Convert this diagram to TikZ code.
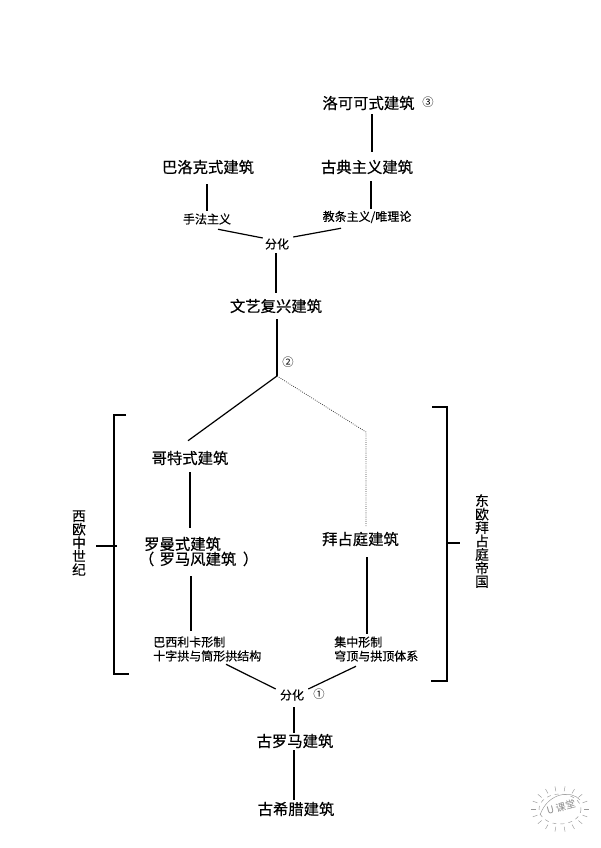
\documentclass[tikz,border=0pt]{standalone}
\usepackage{fontspec}
\setmainfont{Noto Sans CJK SC}
\newfontfamily\cjk{Noto Sans CJK SC}
\newfontfamily\cjkb[FakeBold=0.5]{Noto Sans CJK SC}
\newfontfamily\cjkm[FakeBold=0.25]{Noto Sans CJK SC}
\newfontfamily\cjks[FakeBold=0.35]{Noto Sans CJK SC}
\begin{document}
\begin{tikzpicture}[x=0.75pt,y=-0.75pt,
  big/.style={inner sep=0pt,minimum height=18pt,font=\cjkb\fontsize{11.5}{11.5}\selectfont},
  small/.style={inner sep=0pt,minimum height=12pt,font=\cjkm\fontsize{9}{9}\selectfont},
  twobig/.style={anchor=west,align=left,inner sep=0pt,minimum height=22.5pt,font=\cjkb\fontsize{11.5}{11.25}\selectfont},
  twosmall/.style={anchor=west,align=left,inner sep=0pt,minimum height=22.5pt,font=\cjkm\fontsize{9}{10.5}\selectfont},
  side/.style={align=center,inner sep=0pt,font=\cjks\fontsize{10.3}{10.1}\selectfont},
  num/.style={inner sep=0pt,font=\cjk\fontsize{8.5}{8.5}\selectfont},
  link/.style={draw=black,line width=0.9pt},
  faint/.style={draw=black!75,line width=0.6pt,densely dotted},
  brk/.style={draw=black,line width=1pt},
  stamp/.style={draw=black!40,line width=0.35pt}]
\useasboundingbox (0,0) rectangle (600,848);
% nodes
\node[big] (rococo) at (368.5,103) {洛可可式建筑};
\node[num] (n3) at (428,102) {③};
\node[big] (classic) at (367,167) {古典主义建筑};
\node[big] (baroque) at (208,167) {巴洛克式建筑};
\node[small] (manner) at (207,219) {手法主义};
\node[small] (dogma) at (367,217) {教条主义/唯理论};
\node[small] (split2) at (277,244) {分化};
\node[big] (renai) at (276,306) {文艺复兴建筑};
\node[num] (n2) at (288,362) {②};
\coordinate (fork) at (277,376);
\coordinate (corner) at (366,432);
\node[big] (gothic) at (190,458) {哥特式建筑};
\node[twobig] (roman) at (144,551.5) {罗曼式建筑\\\kern-4pt（\kern4pt 罗马风建筑\kern5pt）};
\node[big] (byz) at (360.5,539) {拜占庭建筑};
\node[twosmall] (basil) at (153,649) {巴西利卡形制\\十字拱与筒形拱结构};
\node[twosmall] (central) at (334,649) {集中形制\\穹顶与拱顶体系};
\node[small] (split1) at (292,695) {分化};
\node[num] (n1) at (319,694) {①};
\node[big] (rome) at (295,741) {古罗马建筑};
\node[big] (greece) at (296,809) {古希腊建筑};
\node[side] (west) at (79,543) {西\\欧\\中\\世\\纪};
\node[side] (east) at (482,541) {东\\欧\\拜\\占\\庭\\帝\\国};
% connectors
\draw[link] ([shift={(3.5,-1)}]rococo.south) -- ([shift={(5,-3)}]classic.north);
\draw[link] ([shift={(4,2)}]classic.south) -- ([shift={(4,0)}]dogma.north);
\draw[link] ([shift={(-1,5)}]baroque.south) -- (manner.north);
\draw[link] ([shift={(11,2)}]manner.south) -- ([shift={(-2,-6)}]split2.west);
\draw[link] ([shift={(-26,3)}]dogma.south) -- ([shift={(4,-7)}]split2.east);
\draw[link] ([shift={(-1,1)}]split2.south) -- ([shift={(0,-1)}]renai.north);
\draw[link] ([shift={(1,1)}]renai.south) -- (fork);
\draw[link] (fork) -- ([shift={(-2,-5)}]gothic.north);
\draw[faint] (fork) -- (corner) -- ([shift={(5.5,0)}]byz.north);
\draw[link] ([shift={(0,2)}]gothic.south) -- ([shift={(46,-8.5)}]roman.north west);
\draw[link] ([shift={(47,9.5)}]roman.south west) -- ([shift={(38,-3)}]basil.north west);
\draw[link] ([shift={(6.5,6)}]byz.south) -- ([shift={(33,0)}]central.north west);
\draw[link] ([shift={(73,0)}]basil.south west) -- ([shift={(-4,-6)}]split1.west);
\draw[link] ([shift={(22,2)}]central.south west) -- ([shift={(4,-6)}]split1.east);
\draw[link] ([shift={(2,4)}]split1.south) -- ([shift={(-1,4)}]rome.north);
\draw[link] ([shift={(-1,-3)}]rome.south) -- ([shift={(-2,3)}]greece.north);
% brackets
\coordinate (lbk) at (117,546);
\coordinate (rbk) at (447,543);
\draw[brk] (126,415) -- (114,415) -- (114,674) -- (129,674);
\draw[brk] (432,407) -- (447,407) -- (447,681) -- (431,681);
\draw[link] ([shift={(10,3)}]west.east) -- (lbk);
\draw[link] (rbk) -- ([shift={(-15,2)}]east.west);
% stamp
\draw[stamp,dashed] (560,809) ellipse (21 and 15);
\draw[stamp] (540,815) .. controls (548,792) and (572,790) .. (580,800);
\foreach \a in {0,20,...,340}
  \draw[stamp] ({560+24*cos(\a)},{809+18*sin(\a)}) -- ({560+29*cos(\a)},{809+23*sin(\a)});
\node[inner sep=0pt,text=black!45,font=\cjk\fontsize{7.5}{7.5}\selectfont,rotate=15] (stampmark) at (561,807) {U 课堂};
\end{tikzpicture}
\end{document}
